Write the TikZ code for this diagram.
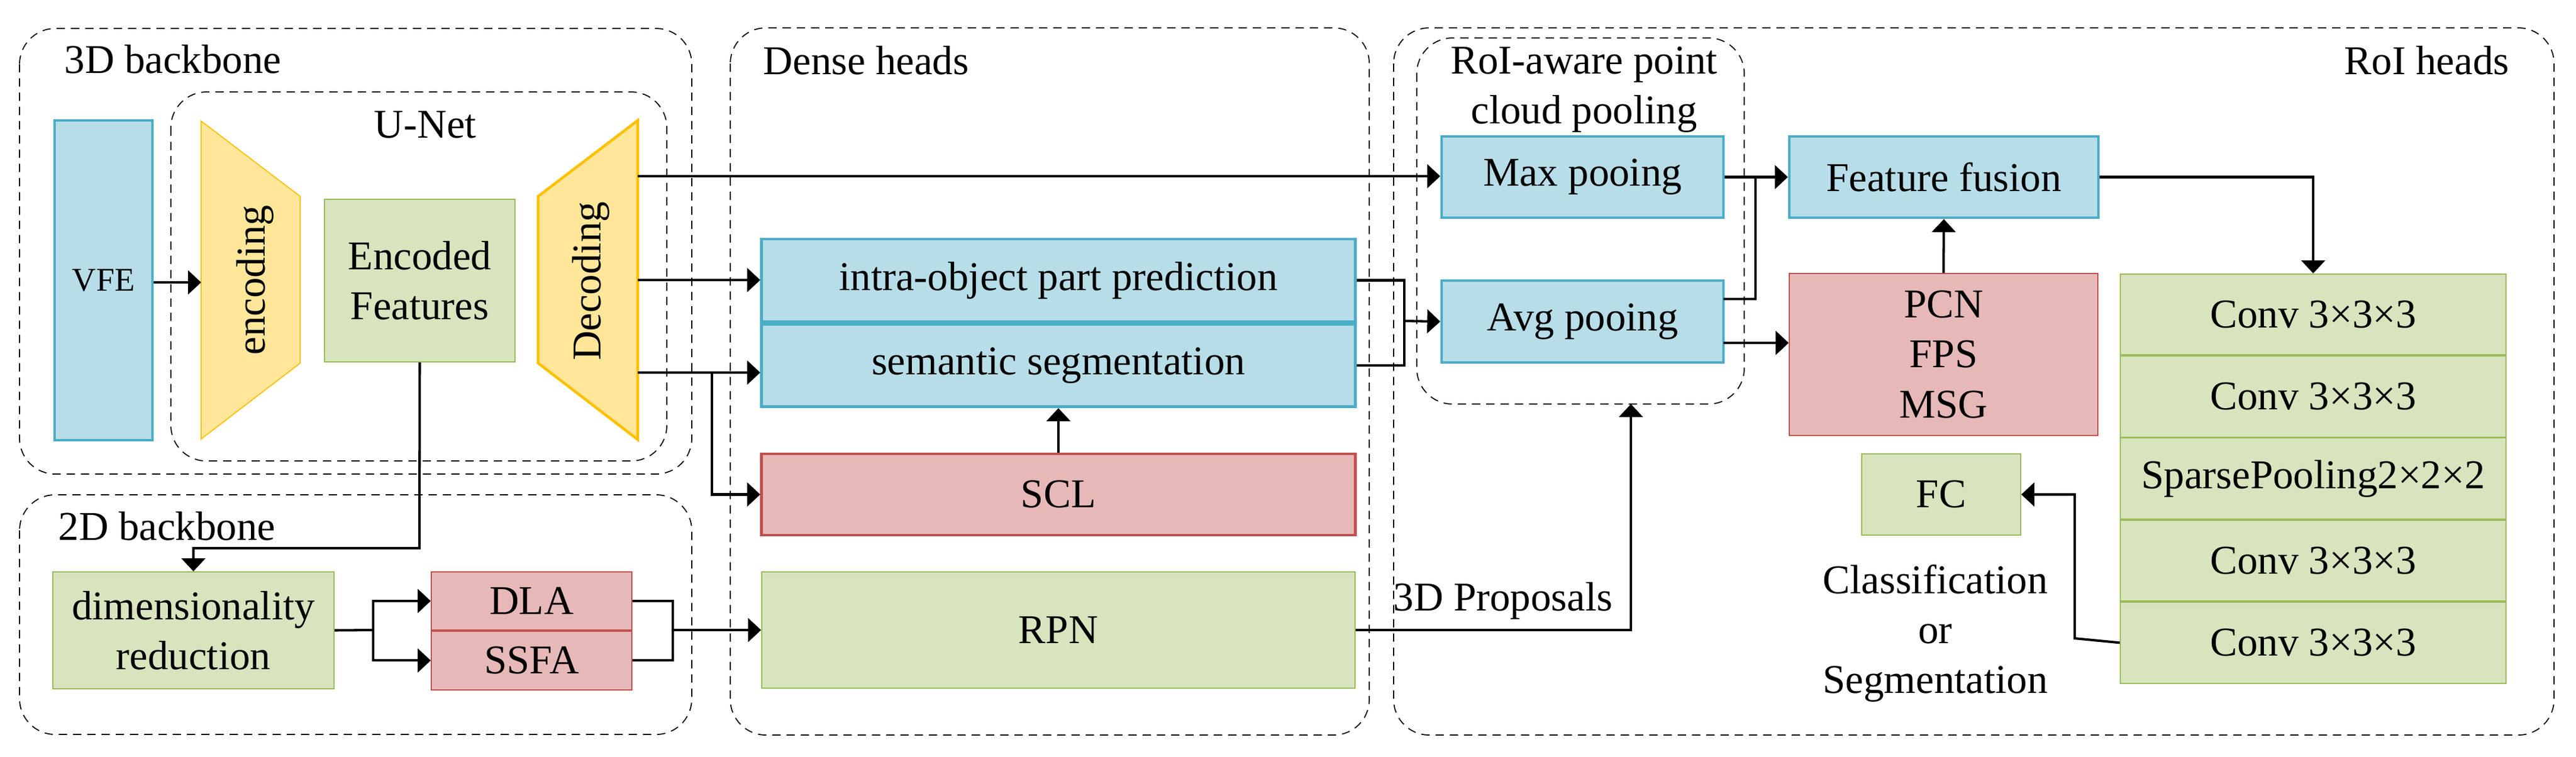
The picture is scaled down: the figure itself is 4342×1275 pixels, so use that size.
\documentclass[tikz,border=0pt]{standalone}
\usepackage{fontspec}
\setmainfont{Liberation Serif}
\usetikzlibrary{positioning}
\usetikzlibrary {arrows.meta}

\definecolor{bluefill}{HTML}{B7DDE8}
\definecolor{blueline}{HTML}{4BACC6}
\definecolor{redfill}{HTML}{E6B9B8}
\definecolor{redline}{HTML}{C0504D}
\definecolor{greenfill}{HTML}{D7E4BD}
\definecolor{greenline}{HTML}{9BBB59}
\definecolor{goldfill}{HTML}{FFE699}
\definecolor{goldline}{HTML}{FFC000}

\begin{document}
\begin{tikzpicture}[x=0.01cm,y=-0.01cm,
  dashframe/.style={draw,line width=0.5pt,dash pattern=on 0.14cm off 0.1cm,rounded corners=0.6cm},
  bluebox/.style={draw=blueline,fill=bluefill,line width=1.3pt,inner sep=0pt,font=\labfont},
  redbox/.style={draw=redline,fill=redfill,line width=0.5pt,inner sep=0pt,font=\labfont},
  greenbox/.style={draw=greenline,fill=greenfill,line width=0.5pt,inner sep=0pt,font=\labfont},
  arr/.style={line width=1.15pt,-{Triangle[length=0.22cm,width=0.4cm]}},
  ln/.style={line width=1.15pt}]

\def\labfont{\fontsize{19.6pt}{23.9pt}\selectfont}
\def\vfefont{\fontsize{15.9pt}{19pt}\selectfont}

\useasboundingbox (0,0) rectangle (4342,1275);

% frames
\draw[dashframe] (33,48) rectangle (1166,799);
\draw[dashframe] (288,155) rectangle (1124,777);
\draw[dashframe] (33,834) rectangle (1166,1238);
\draw[dashframe] (1231,47) rectangle (2308,1239);
\draw[dashframe] (2349,47) rectangle (4305,1239);
\draw[dashframe] (2388,64) rectangle (2940,681);

\node[font=\labfont,anchor=base west,inner sep=0pt] (t3d) at (108,123) {3D backbone};
\node[font=\labfont,anchor=base,inner sep=0pt] (tunet) at (717,232) {U-Net};
\node[font=\labfont,anchor=base west,inner sep=0pt] (t2d) at (98,910) {2D backbone};
\node[font=\labfont,anchor=base west,inner sep=0pt] (tdense) at (1286,125) {Dense heads};
\node[font=\labfont,anchor=base east,inner sep=0pt] (troi) at (4230,125) {RoI heads};
\node[font=\labfont,align=center,inner sep=0pt] (troipool) at (2670,151) {RoI-aware point\\cloud pooling};

% 3D backbone
\node[bluebox,font=\vfefont,minimum width=1.65cm,minimum height=5.39cm] (VFE) at (174.5,472.5) {VFE};
\filldraw[fill=goldfill,draw=goldline,line width=0.5pt] (339,204) -- (506,331) -- (506,612) -- (339,740) -- cycle;
\node[font=\labfont,rotate=90] (enc) at (430,472) {encoding};
\coordinate (encin) at (339,476);
\node[greenbox,align=center,minimum width=3.21cm,minimum height=2.74cm] (encfeat) at (707.5,473) {Encoded\\Features};
\filldraw[fill=goldfill,draw=goldline,line width=1.3pt] (1075,203) -- (907,331) -- (907,612) -- (1075,741) -- cycle;
\node[font=\labfont,rotate=90] (dec) at (996,474) {Decoding};
\coordinate (dec1) at (1075,297);
\coordinate (dec2) at (1075,472);
\coordinate (dec3) at (1075,628);

% 2D backbone
\node[greenbox,align=center,minimum width=4.74cm,minimum height=1.97cm] (dimred) at (326,1062.5) {dimensionality\\reduction};
\node[redbox,minimum width=3.38cm,minimum height=0.98cm] (DLA) at (896,1013) {DLA};
\node[redbox,minimum width=3.38cm,minimum height=0.99cm,below=0cm of DLA] (SSFA) {SSFA};

% dense heads
\node[bluebox,minimum width=10cm,minimum height=1.39cm] (intra) at (1784,472.5) {intra-object part prediction};
\node[bluebox,minimum width=10cm,minimum height=1.39cm,below=0cm of intra] (semseg) {semantic segmentation};
\node[redbox,line width=1.3pt,minimum width=10cm,minimum height=1.37cm] (SCL) at (1784,833.5) {SCL};
\node[greenbox,minimum width=10cm,minimum height=1.96cm] (RPN) at (1784,1062) {RPN};

% RoI heads
\node[bluebox,minimum width=4.75cm,minimum height=1.37cm] (maxpool) at (2667.5,298.5) {Max pooing};
\node[bluebox,minimum width=4.75cm,minimum height=1.38cm] (avgpool) at (2667.5,542) {Avg pooing};
\node[bluebox,minimum width=5.21cm,minimum height=1.37cm] (fusion) at (3276.5,298.5) {Feature fusion};
\node[redbox,align=center,minimum width=5.2cm,minimum height=2.73cm] (PCN) at (3276,597.5) {PCN\\FPS\\MSG};
\node[greenbox,minimum width=2.68cm,minimum height=1.37cm] (FC) at (3272,833.5) {FC};
\node[greenbox,minimum width=6.5cm,minimum height=1.365cm] (conv1) at (3899,530) {Conv 3×3×3};
\node[greenbox,minimum width=6.5cm,minimum height=1.365cm,below=0cm of conv1] (conv2) {Conv 3×3×3};
\node[greenbox,minimum width=6.5cm,minimum height=1.365cm,below=0cm of conv2] (pool3) {SparsePooling2×2×2};
\node[greenbox,minimum width=6.5cm,minimum height=1.365cm,below=0cm of pool3] (conv4) {Conv 3×3×3};
\node[greenbox,minimum width=6.5cm,minimum height=1.365cm,below=0cm of conv4] (conv5) {Conv 3×3×3};
\node[font=\labfont,align=center,inner sep=0pt] (clsseg) at (3262,1068) {Classification\\or\\Segmentation};
\node[font=\labfont,anchor=base west,inner sep=0pt] (prop) at (2348,1029) {3D Proposals};

% connectors
\draw[arr] (VFE.east |- encin) -- (encin);
\draw[arr] (dec1) -- (maxpool.west |- dec1);
\draw[arr] (dec2) -- (intra.west |- dec2);
\draw[arr] (dec3) -- (semseg.west |- dec3);
\coordinate (sclsplit) at (1200,628);
\draw[arr] (sclsplit) |- (SCL.west);
\coordinate (edbend) at (707,924);
\draw[arr] (encfeat.south) -- (edbend) -| (dimred.north);

\coordinate (drsplit) at (629,1062);
\draw[ln] (dimred.east) -- (drsplit);
\draw[arr] (drsplit) |- (DLA.west);
\draw[arr] (drsplit) |- (SSFA.west);
\coordinate (dlajoin) at (1134,1062);
\draw[ln] (DLA.east) -| (dlajoin);
\draw[ln] (SSFA.east) -| (dlajoin);
\draw[arr] (dlajoin) -- (RPN.west |- dlajoin);

\draw[arr] (SCL.north) -- (semseg.south);
\coordinate (segjoin) at (2367,541);
\draw[ln] (intra.east) -| (segjoin);
\draw[ln] (semseg.east) -| (segjoin);
\draw[arr] (segjoin) -- (avgpool.west);

\coordinate (roiin) at (2749,681);
\draw[arr] (RPN.east) -| (roiin);

\draw[arr] (maxpool.east) -- (fusion.west);
\coordinate (avgout1) at (2905,504);
\coordinate (avgout2) at (2905,578);
\coordinate (fusejoin) at (2959,298.5);
\draw[ln] (avgout1) -| (fusejoin);
\draw[arr] (avgout2) -- (PCN.west |- avgout2);
\draw[arr] (PCN.north) -- (fusion.south);
\draw[arr] (fusion.east) -| (conv1.north);
\coordinate (fcbend) at (3497,1076);
\draw[arr] (conv5.west) -- (fcbend) |- (FC.east);
\end{tikzpicture}
\end{document}
